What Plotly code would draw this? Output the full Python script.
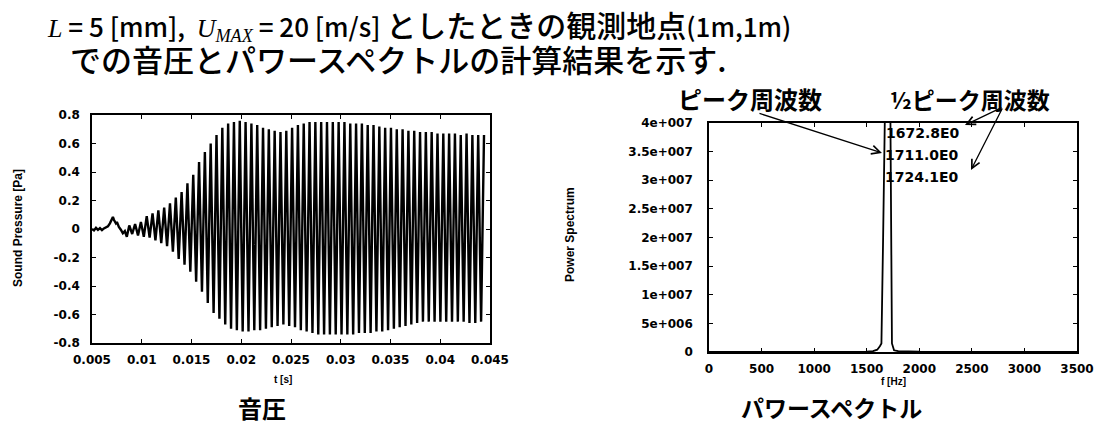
import plotly.graph_objects as go

# ---------------- data ----------------
# sound pressure: low-level start, then one max/min per cycle
NOISE_T = [0.0050, 0.0052, 0.0054, 0.0056, 0.0058, 0.0060, 0.0062, 0.0064, 0.0066, 0.0068,
           0.0070, 0.0071, 0.0072, 0.0074, 0.0075, 0.0077, 0.0079, 0.0081, 0.0083, 0.0085]
NOISE_P = [0.0, -0.01, 0.008, -0.006, 0.006, -0.008, 0.004, 0.012, 0.018, 0.04,
           0.07, 0.085, 0.065, 0.04, 0.05, 0.015, -0.005, -0.03, -0.015, -0.055]
OSC_START = 0.0086          # [s] start of the tonal oscillation
PEAK_FREQ = 1711.0          # [Hz] peak frequency (from the spectrum)
PEAK_MAX = [0.025, 0.035, 0.05, 0.09, 0.11, 0.13, 0.15, 0.18, 0.22, 0.26,
            0.32, 0.38, 0.47, 0.54, 0.60, 0.66, 0.71, 0.74, 0.75, 0.76,
            0.75, 0.74, 0.73, 0.71, 0.70, 0.69, 0.68, 0.69, 0.71, 0.73,
            0.74, 0.75, 0.75, 0.75, 0.75, 0.75, 0.75, 0.75, 0.74, 0.74,
            0.74, 0.73, 0.73, 0.72, 0.71, 0.71, 0.70, 0.70, 0.69, 0.69,
            0.68, 0.68, 0.68, 0.67, 0.67, 0.67, 0.67, 0.66, 0.67, 0.66,
            0.66, 0.66]
PEAK_MIN = [-0.035, -0.045, -0.055, -0.06, -0.08, -0.10, -0.12, -0.16, -0.21, -0.25,
            -0.30, -0.37, -0.44, -0.52, -0.59, -0.63, -0.67, -0.70, -0.71, -0.72,
            -0.72, -0.71, -0.71, -0.70, -0.69, -0.68, -0.67, -0.68, -0.69, -0.71,
            -0.72, -0.73, -0.74, -0.74, -0.74, -0.74, -0.74, -0.74, -0.74, -0.73,
            -0.73, -0.73, -0.72, -0.72, -0.71, -0.70, -0.69, -0.68, -0.67, -0.66,
            -0.65, -0.65, -0.65, -0.65, -0.65, -0.65, -0.65, -0.65, -0.66, -0.66,
            -0.65]

# power spectrum
SPEC_F = [0, 250, 500, 750, 1000, 1250, 1500, 1560, 1600, 1625, 1640, 1656, 1672.8, 1690,
          1700, 1711.0, 1718, 1724.1, 1732, 1740, 1760, 1800, 2000, 2250, 2500, 2750,
          3000, 3250, 3500]
SPEC_P = [2e4, 1e4, 1.5e4, 1e4, 2e4, 2e4, 5e4, 1.5e5, 4e5, 1e6, 1.5e6, 2e7, 4.0e7, 6.5e7,
          7.6e7, 8.0e7, 6.2e7, 4.0e7, 1.5e7, 1.5e6, 3e5, 1.5e5, 4e4, 2e4, 1e4, 1e4,
          1e4, 1e4, 1e4]
HALF_LOW, PEAK, HALF_HIGH = "1672.8E0", "1711.0E0", "1724.1E0"

T_TICKS = [0.005, 0.01, 0.015, 0.02, 0.025, 0.03, 0.035, 0.04, 0.045]
T_LABELS = ["0.005", "0.01", "0.015", "0.02", "0.025", "0.03", "0.035", "0.04", "0.045"]
P_TICKS = [0.8, 0.6, 0.4, 0.2, 0, -0.2, -0.4, -0.6, -0.8]
P_LABELS = ["0.8", "0.6", "0.4", "0.2", "0", "-0.2", "-0.4", "-0.6", "-0.8"]
F_TICKS = [0, 500, 1000, 1500, 2000, 2500, 3000, 3500]
F_LABELS = ["0", "500", "1000", "1500", "2000", "2500", "3000", "3500"]
S_TICKS = [0, 5e6, 1e7, 1.5e7, 2e7, 2.5e7, 3e7, 3.5e7, 4e7]
S_LABELS = ["0", "5e+006", "1e+007", "1.5e+007", "2e+007", "2.5e+007", "3e+007",
            "3.5e+007", "4e+007"]

# ---------------- layout helpers ----------------
W, H = 1099, 425


def px(x):
    return x / W


def py(y):
    return 1 - y / H


period = 1.0 / PEAK_FREQ
t_vals = list(NOISE_T)
p_vals = list(NOISE_P)
for i, pmax in enumerate(PEAK_MAX):
    t_vals.append(OSC_START + (i + 0.25) * period)
    p_vals.append(pmax)
    if i < len(PEAK_MIN):
        t_vals.append(OSC_START + (i + 0.75) * period)
        p_vals.append(PEAK_MIN[i])

fig = go.Figure()
fig.add_trace(go.Scatter(x=t_vals, y=p_vals, mode="lines",
                         line=dict(color="black", width=2.4),
                         xaxis="x", yaxis="y", showlegend=False, hoverinfo="skip"))
fig.add_trace(go.Scatter(x=SPEC_F, y=SPEC_P, mode="lines",
                         line=dict(color="black", width=1.8),
                         xaxis="x2", yaxis="y2", showlegend=False, hoverinfo="skip"))

TICKFONT = dict(family="DejaVu Sans", size=12, color="black", weight="bold")
axis_style = dict(showline=True, linecolor="black", linewidth=1.6, mirror="allticks",
                  ticks="inside", ticklen=4, tickwidth=1.2, tickcolor="black",
                  showgrid=False, zeroline=False, tickfont=TICKFONT, automargin=False)

fig.update_layout(
    width=W, height=H, margin=dict(l=0, r=0, t=0, b=0, pad=0, autoexpand=False),
    paper_bgcolor="white", plot_bgcolor="white",
    xaxis=dict(domain=[px(92), px(490)], anchor="y", range=[0.005, 0.045],
               tickvals=T_TICKS, ticktext=T_LABELS, ticklabelstandoff=5, **axis_style),
    yaxis=dict(domain=[py(343), py(115)], anchor="x", range=[-0.8, 0.8],
               tickvals=P_TICKS, ticktext=P_LABELS, ticklabelstandoff=8, **axis_style),
    xaxis2=dict(domain=[px(709), px(1077)], anchor="y2", range=[0, 3500],
                tickvals=F_TICKS, ticktext=F_LABELS, ticklabelstandoff=5, **axis_style),
    yaxis2=dict(domain=[py(352), py(123)], anchor="x2", range=[0, 4e7],
                tickvals=S_TICKS, ticktext=S_LABELS, ticklabelstandoff=12, **axis_style),
)

CJK = "Noto Sans CJK JP"
SERIF_I = "font-family:'Liberation Serif';font-style:italic"
ann = []


def text(x, y, s, size, family=CJK, weight="normal", xanchor="center", angle=0):
    ann.append(dict(x=px(x), y=py(y), xref="paper", yref="paper", text=s, showarrow=False,
                    xanchor=xanchor, yanchor="middle", textangle=angle,
                    font=dict(family=family, size=size, color="black", weight=weight)))


line1 = (f"<span style=\"{SERIF_I}\">L</span> = 5 [mm],  "
         f"<span style=\"{SERIF_I}\">U</span><sub><span style=\"{SERIF_I}\">MAX</span></sub>"
         " = 20 [m/s] <span style=\"font-size:30px\">としたときの観測地点</span>(1m,1m)")
text(45, 24, line1, 26, weight=500, xanchor="left")
text(68, 58, "での音圧とパワースペクトルの計算結果を示す.", 31, weight=500, xanchor="left")

# axis titles
text(18, 228, "Sound Pressure [Pa]", 12, family="Liberation Sans", weight="bold", angle=-90)
text(283, 379, "t [s]", 10, family="Liberation Sans", weight="bold")
text(570, 235, "Power Spectrum", 12, family="Liberation Sans", weight="bold", angle=-90)
text(893, 381, "f [Hz]", 10, family="Liberation Sans", weight="bold")

# captions
text(262, 407, "音圧", 24, weight="bold")
text(831, 407, "パワースペクトル", 23, weight="bold")

# annotation labels
text(750, 99, "ピーク周波数", 24, weight="bold")
text(970, 99, "½ピーク周波数", 23, weight="bold")
text(884, 133, HALF_LOW, 14, family="DejaVu Sans", weight="bold", xanchor="left")
text(883, 155, PEAK, 14, family="DejaVu Sans", weight="bold", xanchor="left")
text(883, 177, HALF_HIGH, 14, family="DejaVu Sans", weight="bold", xanchor="left")


def arrow(hx, hy, tx, ty):
    ann.append(dict(x=px(hx), y=py(hy), xref="paper", yref="paper", text="",
                    showarrow=True, ax=tx - hx, ay=ty - hy, arrowhead=5, arrowsize=1.3,
                    arrowwidth=1.3, arrowcolor="black", standoff=0, startstandoff=0))


arrow(882, 153, 758, 113)
arrow(965, 125, 1003, 107)
arrow(971, 170, 1003, 107)

fig.update_layout(annotations=ann)

fig.write_html("out.html", config={"displayModeBar": False},
               post_script="document.body.style.margin='0';")
